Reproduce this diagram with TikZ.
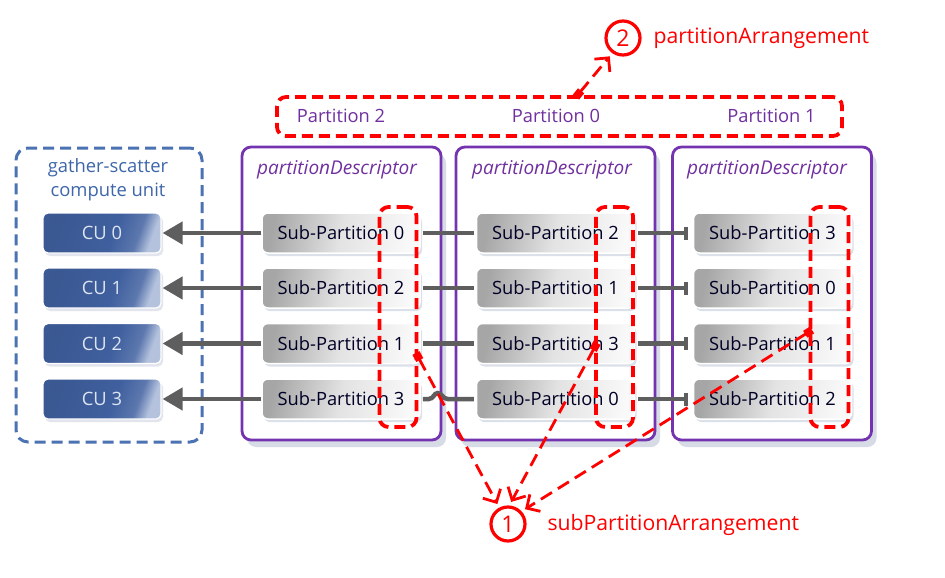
\documentclass[tikz,border=0pt]{standalone}
\usepackage{fontspec}
\setmainfont{Open Sans}
\usetikzlibrary{arrows.meta,shadows,calc}
\definecolor{purp}{HTML}{7434B0}
\definecolor{purptext}{HTML}{7030A0}
\definecolor{bluetext}{HTML}{3E66AA}
\definecolor{bluedash}{HTML}{4B72B2}
\definecolor{cuDark}{HTML}{3F5F9E}
\definecolor{cuLight}{HTML}{B4C2DD}
\definecolor{cutext}{HTML}{DDE5F3}
\definecolor{linkgray}{HTML}{5E5E5E}
\definecolor{rd}{HTML}{FF0000}
\definecolor{shadowc}{HTML}{8C9AB8}
\pgfdeclarehorizontalshading{cushade}{100bp}{color(0bp)=(cuDark); color(25bp)=(cuDark!92!black); color(56bp)=(cuDark); color(68bp)=(cuDark!75!cuLight); color(75bp)=(cuLight); color(100bp)=(cuLight)}
\pgfdeclarehorizontalshading{spshade}{100bp}{color(0bp)=(gray!70); color(25bp)=(gray!70); color(50bp)=(gray!22); color(75bp)=(gray!5); color(100bp)=(gray!5)}
\tikzset{
  pdbox/.style={draw=purp, line width=2.8pt, rounded corners=9pt, fill=white,
    minimum width=199pt, minimum height=293pt, inner sep=0pt,
    drop shadow={shadow xshift=5pt, shadow yshift=-7pt, opacity=.35, fill=shadowc}},
  gsbox/.style={draw=bluedash, line width=3pt, dash pattern=on 11pt off 6pt, rounded corners=12pt,
    minimum width=186pt, minimum height=294pt, inner sep=0pt},
  cubox/.style={rounded corners=5pt, shading=cushade, shading angle=-20,
    draw=white, line width=1.2pt, minimum width=118pt, minimum height=40pt, inner sep=0pt,
    text=cutext, font=\fontsize{18.4}{20}\selectfont,
    drop shadow={shadow xshift=2pt, shadow yshift=-3pt, opacity=.25, fill=shadowc}},
  spbox/.style={rounded corners=6pt, shading=spshade, shading angle=-12,
    draw=white, line width=1.5pt, minimum width=158pt, minimum height=40pt, inner sep=0pt,
    text=black!85!blue, font=\fontsize{18.3}{20}\selectfont,
    drop shadow={shadow xshift=2pt, shadow yshift=-3pt, opacity=.3, fill=shadowc}},
  pdlabel/.style={text=purptext, font=\fontsize{19}{22}\selectfont\itshape},
  ptlabel/.style={text=purptext, font=\fontsize{18.3}{22}\selectfont},
  redbox/.style={draw=rd, line width=3.8pt, dash pattern=on 11pt off 6pt, rounded corners=9pt, inner sep=0pt},
  redarrow/.style={draw=rd, line width=2.8pt, dash pattern=on 13pt off 7pt,
    {Square[length=8pt,width=8pt]}-{Straight Barb[length=10pt,width=20pt]}, shorten >=4pt},
  circ/.style={circle, draw=rd, line width=3.2pt, minimum size=34pt, inner sep=0pt, fill=white,
    text=rd, font=\fontsize{23}{26}\selectfont},
  redtext/.style={text=rd, font=\fontsize{21.2}{24}\selectfont, anchor=west},
  cuarrow/.style={draw=linkgray, line width=4.5pt, -{Triangle[length=20pt,width=22pt]}},
  link/.style={draw=linkgray, line width=4.5pt},
  barlink/.style={draw=linkgray, line width=4.5pt, -{Bar[width=13pt,line width=3.5pt]}}
}
\begin{document}
\begin{tikzpicture}[x=1pt,y=-1pt]
\useasboundingbox (0,0) rectangle (945,578);
\fill[white] (0,0) rectangle (945,578);

% gather-scatter box
\node[gsbox] (gs) at (109,295) {};
\node[text=bluetext, font=\fontsize{18.4}{24}\selectfont, align=center] (gstitle) at (108,180)
  {gather-scatter\\compute unit};

% partitionDescriptor boxes
\node[pdbox] (pd1) at (341.5,293.5) {};
\node[pdbox] (pd2) at (555.5,293.5) {};
\node[pdbox] (pd3) at (772,293.5) {};
\node[pdlabel] (pl1) at (337,170) {partitionDescriptor};
\node[pdlabel] (pl2) at (552,170) {partitionDescriptor};
\node[pdlabel] (pl3) at (767,170) {partitionDescriptor};

% CU boxes
\node[cubox] (cu0) at (102,233) {CU 0};
\node[cubox] (cu1) at (102,288) {CU 1};
\node[cubox] (cu2) at (102,343.5) {CU 2};
\node[cubox] (cu3) at (102,399) {CU 3};

% sub-partition boxes
\node[spbox] (a0) at (341,233) {Sub-Partition 0};
\node[spbox] (a1) at (341,288) {Sub-Partition 2};
\node[spbox] (a2) at (341,343.5) {Sub-Partition 1};
\node[spbox] (a3) at (341,399) {Sub-Partition 3};
\node[spbox] (b0) at (555.5,233) {Sub-Partition 2};
\node[spbox] (b1) at (555.5,288) {Sub-Partition 1};
\node[spbox] (b2) at (555.5,343.5) {Sub-Partition 3};
\node[spbox] (b3) at (555.5,399) {Sub-Partition 0};
\node[spbox] (c0) at (772.5,233) {Sub-Partition 3};
\node[spbox] (c1) at (772.5,288) {Sub-Partition 0};
\node[spbox] (c2) at (772.5,343.5) {Sub-Partition 1};
\node[spbox] (c3) at (772.5,399) {Sub-Partition 2};

% arrows to CUs
\draw[cuarrow] (a0.west) -- ([xshift=1pt]cu0.east);
\draw[cuarrow] (a1.west) -- ([xshift=1pt]cu1.east);
\draw[cuarrow] (a2.west) -- ([xshift=1pt]cu2.east);
\draw[cuarrow] (a3.west) -- ([xshift=1pt]cu3.east);

% links col1 -> col2
\draw[link] (a0.east) ++(2,0) -- ([xshift=-2pt]b0.west);
\draw[link] (a1.east) ++(2,0) -- ([xshift=-2pt]b1.west);
\draw[link] (a2.east) ++(2,0) -- ([xshift=-2pt]b2.west);
\draw[link] (a3.east) ++(2,0) -- ++(6,0) .. controls +(5,0) and +(-4,0) .. ++(9,-6)
   .. controls +(4,0) and +(-5,0) .. ++(10,6) -- ([xshift=-2pt]b3.west);

% links col2 -> col3
\draw[barlink] (b0.east) ++(3,0) -- ([xshift=-5pt]c0.west);
\draw[barlink] (b1.east) ++(3,0) -- ([xshift=-5pt]c1.west);
\draw[barlink] (b2.east) ++(3,0) -- ([xshift=-5pt]c2.west);
\draw[barlink] (b3.east) ++(3,0) -- ([xshift=-5pt]c3.west);

% red dashed sub-partition columns
\node[redbox, minimum width=37pt, minimum height=220pt] (r1) at (398,317) {};
\node[redbox, minimum width=37pt, minimum height=220pt] (r2) at (614.5,317) {};
\node[redbox, minimum width=38pt, minimum height=220pt] (r3) at (829.5,317) {};

% partition arrangement box
\node[redbox, minimum width=565pt, minimum height=39pt] (pa) at (559.5,116.5) {};
\node[ptlabel] (p2) at (341,116) {Partition 2};
\node[ptlabel] (p0) at (556,116) {Partition 0};
\node[ptlabel] (p1) at (771.5,116) {Partition 1};

% circles and labels
\node[circ] (n2) at (623,38) {2};
\node[redtext] (t2) at (650,38) {partitionArrangement};
\node[circ] (n1) at (508,524) {1};
\node[redtext] (t1) at (544,525) {subPartitionArrangement};

% red dashed arrows
\coordinate (s2) at (576,97);
\coordinate (s1a) at (416,353);
\coordinate (s1b) at (597,343);
\coordinate (s1c) at (812,330);
\draw[redarrow] (s2) -- (n2.235);
\draw[redarrow] (s1a) -- (n1.118);
\draw[redarrow] (s1b) -- (n1.86);
\draw[redarrow] (s1c) -- (n1.43);
\end{tikzpicture}
\end{document}
